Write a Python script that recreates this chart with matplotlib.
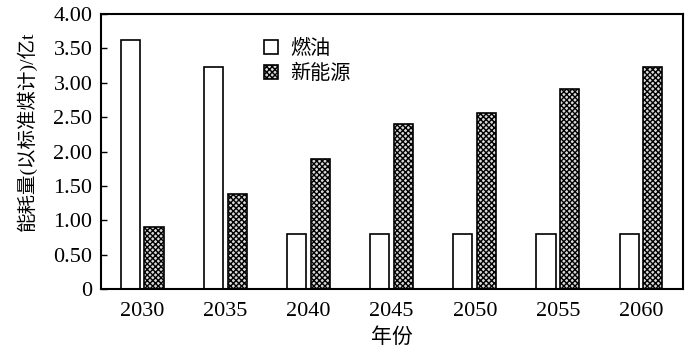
import matplotlib
matplotlib.use("Agg")
import numpy as np
from matplotlib import pyplot as plt
from matplotlib.ticker import FuncFormatter

plt.rcParams['font.family'] = ['Liberation Serif', 'Noto Sans CJK SC']
plt.rcParams['hatch.linewidth'] = 1.0

# Data
years = ['2030', '2035', '2040', '2045', '2050', '2055', '2060']
fuel_oil = [3.62, 3.23, 0.80, 0.80, 0.80, 0.80, 0.80]
new_energy = [0.90, 1.38, 1.89, 2.40, 2.56, 2.91, 3.23]

fig = plt.figure(figsize=(7, 3.58), dpi=100)
ax = fig.add_axes([0.1439, 0.1927, 0.8314, 0.7682])

x = np.arange(len(years))
w = 0.23
ax.bar(x - 0.145, fuel_oil, w, color='white', edgecolor='black', linewidth=1.2, label='燃油')
ax.bar(x + 0.14, new_energy, w, color='#d8d8d8', edgecolor='black', linewidth=1.2,
       hatch='xxxxxx', label='新能源')

ax.set_xlim(-0.5, 6.5)
ax.set_ylim(0, 4)
ax.set_xticks(x)
ax.set_xticklabels(years)
ax.set_yticks(np.arange(0, 4.01, 0.5))
ax.yaxis.set_major_formatter(FuncFormatter(lambda v, p: '0' if v == 0 else f'{v:.2f}'))
ax.tick_params(axis='x', length=0, pad=9, labelsize=16)
ax.tick_params(axis='y', direction='in', length=4, width=1, labelsize=16, pad=6)
for s in ax.spines.values():
    s.set_linewidth(1.5)

ax.set_xlabel('年份', fontsize=15, labelpad=6)
ax.set_ylabel('能耗量(以标准煤计)/亿t', fontsize=14)
ax.yaxis.set_label_coords(-0.11, 0.575)

ax.legend(loc='upper left', bbox_to_anchor=(0.25, 0.97), frameon=False, fontsize=14.5,
          handlelength=0.7, handleheight=0.7, handletextpad=0.6, labelspacing=0.25)

fig.savefig('out.png', dpi=100)
